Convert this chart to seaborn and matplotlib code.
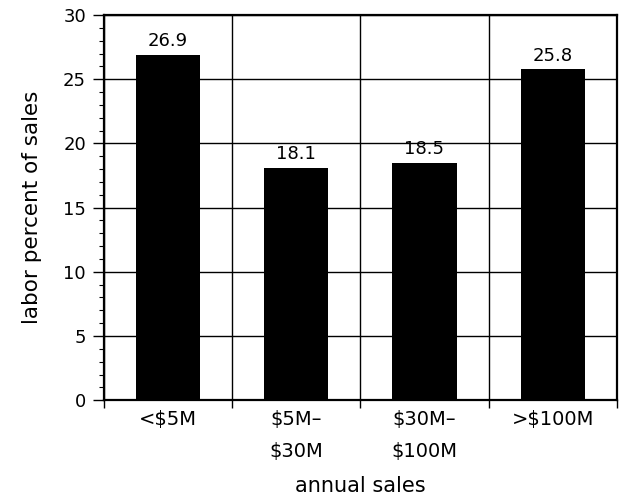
import matplotlib
matplotlib.use("Agg")
import matplotlib.pyplot as plt
import seaborn as sns
import pandas as pd
from matplotlib.ticker import MultipleLocator, FixedLocator

categories = ["<$5M", "$5M–\n$30M", "$30M–\n$100M", ">$100M"]
values = [26.9, 18.1, 18.5, 25.8]
value_labels = ["26.9", "18.1", "18.5", "25.8"]

sns.set_style("white")
plt.rcParams['font.family'] = ['DejaVu Sans']
plt.rcParams['text.color'] = 'black'
plt.rcParams['axes.labelcolor'] = 'black'
plt.rcParams['xtick.color'] = 'black'
plt.rcParams['ytick.color'] = 'black'

df = pd.DataFrame({"cat": categories, "val": values})

fig = plt.figure(figsize=(6.23, 5.04), dpi=100)
ax = fig.add_axes([0.167, 0.206, 0.823, 0.764])

sns.barplot(data=df, x="cat", y="val", color="black", width=0.5, ax=ax,
            saturation=1, linewidth=0, edgecolor="black", zorder=3)

for p, lab in zip(ax.patches, value_labels):
    ax.text(p.get_x() + p.get_width() / 2, p.get_height() + 0.35, lab,
            ha="center", va="bottom", fontsize=13, color="black", zorder=4)

ax.set_xlim(-0.5, 3.5)
ax.set_ylim(0, 30)

ax.xaxis.set_major_locator(FixedLocator([-0.5, 0.5, 1.5, 2.5, 3.5]))
ax.xaxis.set_minor_locator(FixedLocator([0, 1, 2, 3]))
ax.set_xticklabels([], minor=False)
ax.set_xticklabels(categories, minor=True, linespacing=1.85)
ax.tick_params(axis="x", which="major", bottom=True, direction="out", length=6, width=1, color="black")
ax.tick_params(axis="x", which="minor", bottom=True, length=0, labelsize=14, pad=7)

ax.set_yticks(range(0, 31, 5))
ax.yaxis.set_minor_locator(MultipleLocator(1))
ax.tick_params(axis="y", which="major", left=True, direction="out", length=8, width=1, color="black", labelsize=13, pad=5)
ax.tick_params(axis="y", which="minor", left=True, direction="out", length=3.5, width=0.8, color="black")

ax.grid(True, which="major", axis="both", color="black", linewidth=1, zorder=0)
ax.set_axisbelow(True)

for s in ax.spines.values():
    s.set_visible(True)
    s.set_color("black")
    s.set_linewidth(1.6)

ax.set_xlabel("annual sales", fontsize=15, labelpad=11)
ax.set_ylabel("labor percent of sales", fontsize=15.5, labelpad=15)

fig.savefig("out.png", dpi=100)
